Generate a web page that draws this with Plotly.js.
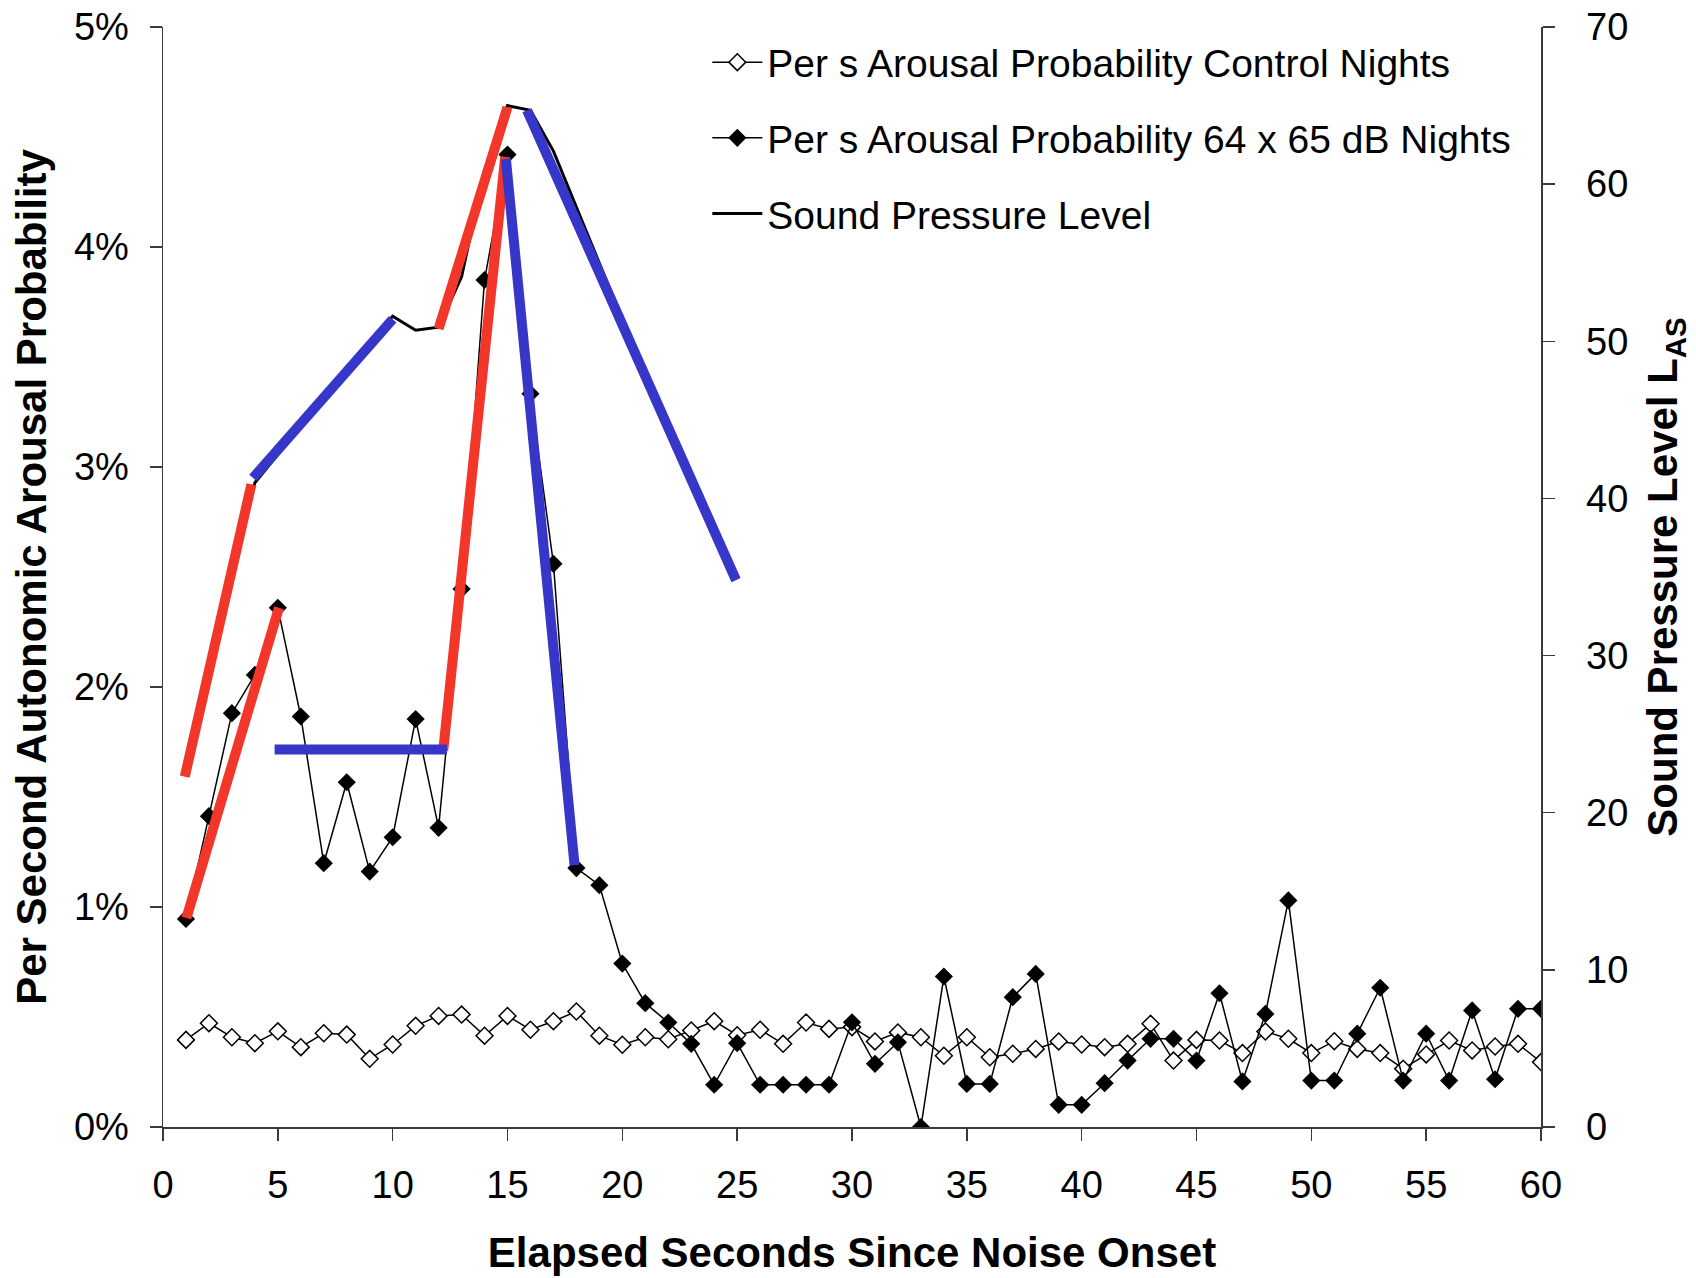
<!DOCTYPE html>
<html>
<head>
<meta charset="utf-8">
<script src="https://cdn.plot.ly/plotly-3.0.1.min.js"></script>
<style>
  html, body { margin: 0; padding: 0; background: #fff; }
  #chart { width: 1696px; height: 1278px; }
</style>
</head>
<body>
<div id="chart"></div>
<script>
// ---- Data ----
var seconds = [1,2,3,4,5,6,7,8,9,10,11,12,13,14,15,16,17,18,19,20,
               21,22,23,24,25,26,27,28,29,30,31,32,33,34,35,36,37,38,39,40,
               41,42,43,44,45,46,47,48,49,50,51,52,53,54,55,56,57,58,59,60];

// Per s arousal probability, control nights (fraction)
var controlProb = [0.00396,0.00472,0.00408,0.00381,0.00435,0.00363,0.00426,0.00420,0.00310,0.00375,
                   0.00460,0.00505,0.00511,0.00415,0.00505,0.00442,0.00481,0.00525,0.00415,0.00374,
                   0.00408,0.00399,0.00439,0.00481,0.00417,0.00442,0.00378,0.00475,0.00446,0.00454,
                   0.00389,0.00430,0.00408,0.00324,0.00408,0.00317,0.00333,0.00355,0.00389,0.00375,
                   0.00363,0.00378,0.00469,0.00302,0.00396,0.00393,0.00336,0.00434,0.00401,0.00336,
                   0.00390,0.00355,0.00336,0.00265,0.00330,0.00393,0.00348,0.00366,0.00378,0.00295];

// Per s arousal probability, 64 x 65 dB nights (fraction)
var noiseProb = [0.00946,0.01413,0.01881,0.02055,0.02360,0.01866,0.01199,0.01567,0.01161,0.01317,
                 0.01854,0.01360,0.02446,0.03850,0.04420,0.03333,0.02560,0.01177,0.01099,0.00743,
                 0.00563,0.00475,0.00378,0.00192,0.00381,0.00192,0.00192,0.00192,0.00192,0.00476,
                 0.00287,0.00385,0.00000,0.00684,0.00196,0.00196,0.00590,0.00696,0.00101,0.00101,
                 0.00199,0.00302,0.00401,0.00401,0.00302,0.00608,0.00207,0.00514,0.01030,0.00211,
                 0.00211,0.00424,0.00633,0.00211,0.00424,0.00211,0.00530,0.00217,0.00537,0.00537];

// Sound pressure level L_AS (dB), seconds 1..25
var splSeconds = [1,2,3,4,5,6,7,8,9,10,11,12,13,14,15,16,17,18,19,20,21,22,23,24,25];
var splValues  = [22.3,28.5,34.8,41.0,42.8,44.5,46.3,48.0,49.8,51.6,50.7,50.9,54.1,60.9,65.0,
                  64.7,62.1,58.5,55.0,51.4,48.0,44.6,41.2,38.0,34.9];

// Highlight segments drawn over the chart (start/end points in data units)
var redSplSegX   = [[0.95, 3.85], [12.0, 15.0]];
var redSplSegY   = [[22.3, 40.9], [50.8, 64.9]];
var blueSplSegX  = [[3.92, 10.0], [15.85, 24.95]];
var blueSplSegY  = [[41.3, 51.4], [64.7, 34.8]];
var redProbSegX  = [[1.02, 5.05], [12.2, 14.9]];
var redProbSegY  = [[0.0095, 0.0236], [0.0171, 0.0441]];
var blueProbSegX = [[4.86, 12.36], [14.93, 17.92]];
var blueProbSegY = [[0.01716, 0.01716], [0.0440, 0.0119]];

// Tick values
var probTicks = [0, 0.01, 0.02, 0.03, 0.04, 0.05];
var splTicks  = [0, 10, 20, 30, 40, 50, 60, 70];
var secTicks  = [0, 5, 10, 15, 20, 25, 30, 35, 40, 45, 50, 55, 60];

// ---- Styling ----
var FONT = 'Liberation Sans, Arial, Helvetica, sans-serif';
var RED = '#F2362A';
var BLUE = '#3636C8';
var AXIS = '#3a3a3a';

var traces = [
  {
    x: seconds, y: controlProb, yaxis: 'y',
    name: 'Per s Arousal Probability Control Nights',
    legendgroup: 'a',
    mode: 'lines+markers', type: 'scatter',
    line: { color: '#000', width: 1.5 },
    marker: { symbol: 'diamond', size: 13, color: '#fff', line: { color: '#000', width: 1.5 } }
  },
  {
    x: seconds, y: noiseProb, yaxis: 'y',
    name: 'Per s Arousal Probability 64 x 65 dB Nights',
    legendgroup: 'b',
    mode: 'lines+markers', type: 'scatter',
    line: { color: '#000', width: 1.5 },
    marker: { symbol: 'diamond', size: 14, color: '#000', line: { color: '#000', width: 0 } }
  }
];

function addSegs(xs, ys, axis, color) {
  for (var i = 0; i < xs.length; i++) {
    traces.push({
      x: xs[i], y: ys[i], yaxis: axis, type: 'scatter', mode: 'lines',
      line: { color: color, width: 10 },
      showlegend: false, hoverinfo: 'skip'
    });
  }
}
addSegs(redProbSegX, redProbSegY, 'y', RED);
addSegs(blueProbSegX, blueProbSegY, 'y', BLUE);

traces.push({
  x: splSeconds, y: splValues, yaxis: 'y2',
  name: 'Sound Pressure Level',
  legendgroup: 'c',
  mode: 'lines', type: 'scatter',
  line: { color: '#000', width: 3 }
});
addSegs(redSplSegX, redSplSegY, 'y2', RED);
addSegs(blueSplSegX, blueSplSegY, 'y2', BLUE);

var tickFont = { family: FONT, size: 38, color: '#000' };
var titleFont = { family: FONT, size: 42, color: '#000' };

var layout = {
  width: 1696, height: 1278,
  margin: { l: 163, r: 155, t: 27, b: 151, pad: 0 },
  paper_bgcolor: '#fff', plot_bgcolor: '#fff',
  showlegend: true,
  hovermode: false,
  legend: {
    x: 0.395, y: 0.997, xanchor: 'left', yanchor: 'top',
    bgcolor: 'rgba(0,0,0,0)', borderwidth: 0,
    font: { family: FONT, size: 39, color: '#000' },
    traceorder: 'grouped', tracegroupgap: 22,
    itemwidth: 50
  },
  xaxis: {
    range: [0, 60], tickvals: secTicks, ticktext: secTicks.map(String),
    ticks: 'outside', ticklen: 12, tickwidth: 1.5, tickcolor: AXIS,
    showline: true, linecolor: AXIS, linewidth: 1.5,
    showgrid: false, zeroline: false,
    tickfont: tickFont, ticklabelstandoff: 12,
    title: { text: '<b>Elapsed Seconds Since Noise Onset</b>', font: titleFont, standoff: 32 }
  },
  yaxis: {
    range: [0, 0.05], tickvals: probTicks, tickformat: '.0%',
    ticks: 'outside', ticklen: 12, tickwidth: 1.5, tickcolor: AXIS,
    showline: true, linecolor: AXIS, linewidth: 1.5,
    showgrid: false, zeroline: false,
    tickfont: tickFont, ticklabelstandoff: 13,
    title: { text: '<b>Per Second Autonomic Arousal Probability</b>', font: titleFont, standoff: 14 }
  },
  yaxis2: {
    overlaying: 'y', side: 'right',
    range: [0, 70], tickvals: splTicks,
    ticks: 'outside', ticklen: 12, tickwidth: 1.5, tickcolor: AXIS,
    showline: true, linecolor: AXIS, linewidth: 1.5,
    showgrid: false, zeroline: false,
    tickfont: tickFont, ticklabelstandoff: 24,
    title: { text: '<b>Sound Pressure Level L<sub>AS</sub></b>', font: titleFont, standoff: 20 }
  }
};

Plotly.newPlot('chart', traces, layout, { staticPlot: true, displayModeBar: false });
</script>
</body>
</html>
